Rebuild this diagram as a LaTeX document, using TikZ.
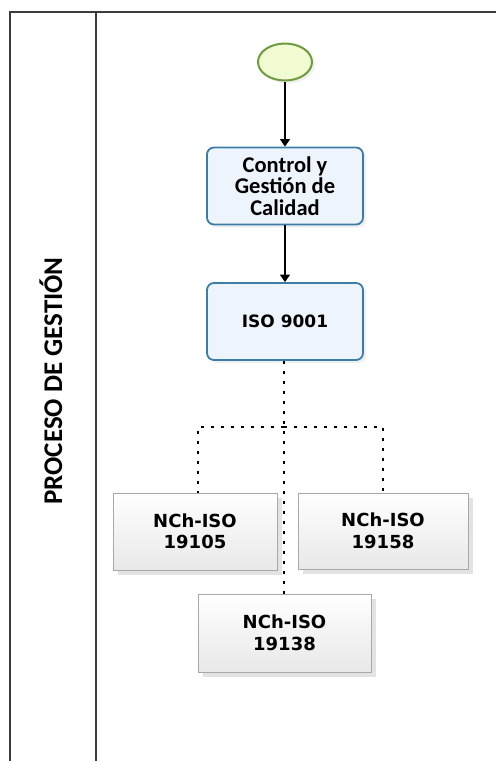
\documentclass[tikz,border=0pt]{standalone}
\usepackage{fontspec}
\setmainfont{Carlito}
\newfontfamily\boxfont{DejaVu Sans}
\usetikzlibrary{shadows,arrows.meta,shapes.geometric}
\definecolor{frameline}{HTML}{3C3C3C}
\definecolor{blueborder}{HTML}{3A7EA6}
\definecolor{bluefill}{HTML}{EEF4FB}
\definecolor{greenborder}{HTML}{6F9A3E}
\definecolor{greenfill}{HTML}{F0FBD2}
\definecolor{grayborder}{HTML}{A8A8A8}
\tikzset{
  lane/.style={draw=frameline, line width=1.3pt},
  taskbox/.style={draw=blueborder, line width=1.8pt, rounded corners=7pt,
    fill=bluefill, minimum width=156pt, minimum height=77pt, align=center,
    font=\bfseries\fontsize{22.5}{21.5}\selectfont,
    drop shadow={shadow xshift=3pt, shadow yshift=-3pt, opacity=0.12}},
  stdbox/.style={draw=grayborder, line width=0.8pt,
    top color=white, bottom color=gray!18, align=center,
    font=\boxfont\bfseries\fontsize{18}{21.5}\selectfont,
    drop shadow={shadow xshift=5pt, shadow yshift=-5pt, opacity=0.22}},
  flow/.style={draw=black, line width=1.2pt, -{Triangle[width=10pt,length=7.5pt]}},
  dots/.style={draw=black, line width=2.6pt, dash pattern=on 2.6pt off 7.4pt},
}
\begin{document}
\begin{tikzpicture}[x=1pt,y=-1pt]
\useasboundingbox (0,0) rectangle (496,761);
% lane frame
\draw[lane] (10,761) -- (10,12) -- (496,12);
\draw[lane] (96,12) -- (96,761);
\node[rotate=90, font=\bfseries\fontsize{27}{30}\selectfont] (title) at (51,381) {PROCESO DE GESTIÓN};
% start event
\node[ellipse, draw=greenborder, line width=2pt, fill=greenfill,
  minimum width=54pt, minimum height=37pt, inner sep=0pt,
  drop shadow={shadow xshift=3pt, shadow yshift=-3pt, opacity=0.12}] (start) at (285,62) {};
% tasks
\node[taskbox] (ctrl) at (285,186) {Control y\\Gestión de\\Calidad};
\node[taskbox, font=\boxfont\bfseries\fontsize{17}{20}\selectfont] (iso) at (285,321.5) {ISO 9001};
% standards
\node[stdbox, minimum width=164pt, minimum height=77pt] (n105) at (195,531.5) {NCh-ISO\\19105};
\node[stdbox, minimum width=170pt, minimum height=76pt] (n158) at (383,531) {NCh-ISO\\19158};
\node[stdbox, minimum width=173pt, minimum height=78pt] (n138) at (284.5,633) {NCh-ISO\\19138};
% connectors
\draw[flow] (start) -- (ctrl);
\draw[flow] (ctrl) -- (iso);
\coordinate (j) at (284,427);
\coordinate (jl) at (198,427);
\coordinate (jr) at (383,427);
\draw[dots] (iso.south -| j) -- (n138.north -| j);
\draw[dots] (j) -- (jl) -- (jl |- n105.north);
\draw[dots] (j) -- (jr) -- (n158.north);
\end{tikzpicture}
\end{document}
